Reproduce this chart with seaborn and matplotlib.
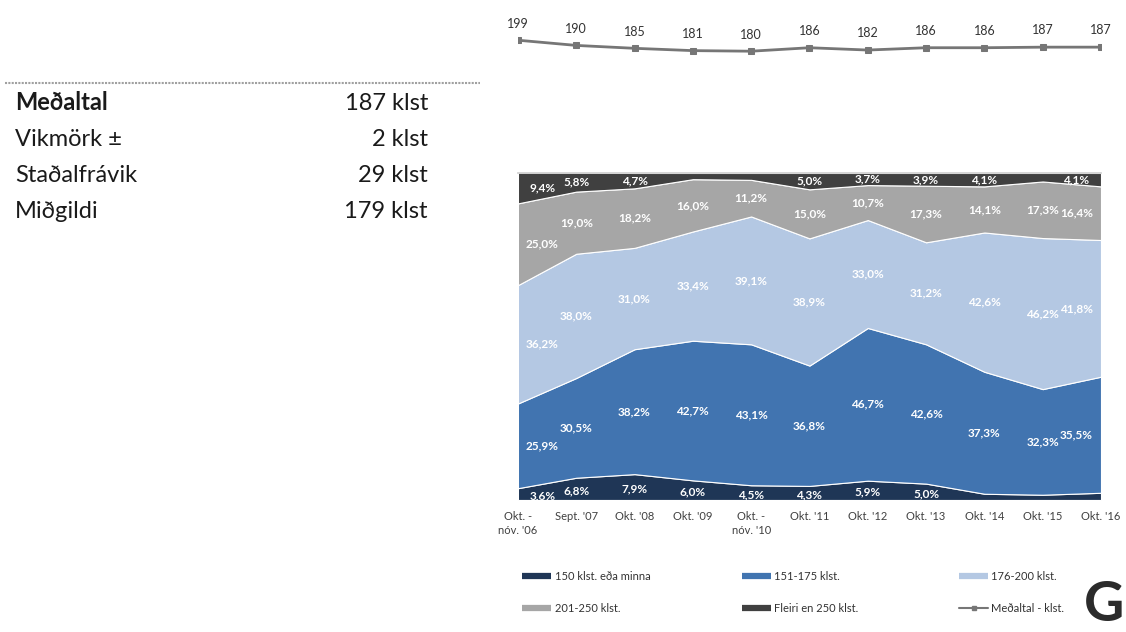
import numpy as np
import pandas as pd
import matplotlib
matplotlib.use("Agg")
import matplotlib.pyplot as plt
from matplotlib.lines import Line2D
import seaborn as sns

# Data
periods = ["Okt. -\nnóv. '06", "Sept. '07", "Okt. '08", "Okt. '09", "Okt. -\nnóv. '10",
           "Okt. '11", "Okt. '12", "Okt. '13", "Okt. '14", "Okt. '15", "Okt. '16"]
avg_hours = [199, 190, 185, 181, 180, 186, 182, 186, 186, 187, 187]

band_names = ["150 klst. eða minna", "151-175 klst.", "176-200 klst.", "201-250 klst.", "Fleiri en 250 klst."]
le150 = [3.6, 6.8, 7.9, 6.0, 4.5, 4.3, 5.9, 5.0, 1.9, 1.6, 2.2]
h151_175 = [25.9, 30.5, 38.2, 42.7, 43.1, 36.8, 46.7, 42.6, 37.3, 32.3, 35.5]
h176_200 = [36.2, 38.0, 31.0, 33.4, 39.1, 38.9, 33.0, 31.2, 42.6, 46.2, 41.8]
h201_250 = [25.0, 19.0, 18.2, 16.0, 11.2, 15.0, 10.7, 17.3, 14.1, 17.3, 16.4]
gt250 = [9.4, 5.8, 4.7, 1.9, 2.1, 5.0, 3.7, 3.9, 4.1, 2.6, 4.1]
# which labels are printed in the chart (small values in the original have none)
show_le150 = [True] * 8 + [False] * 3
show_gt250 = [True, True, True, False, False, True, True, True, True, False, True]

stat_names = ["Meðaltal", "Vikmörk ±", "Staðalfrávik", "Miðgildi"]
stat_values = ["187 klst", "2 klst", "29 klst", "179 klst"]

band_colors = ["#1f3656", "#4174b0", "#b4c8e3", "#a6a6a6", "#404040"]
line_color = "#767676"

sns.set_theme(style="white")
plt.rcParams["font.family"] = ["Lato", "DejaVu Sans"]

fig = plt.figure(figsize=(11.26, 6.32), dpi=100)

x = np.arange(len(periods))

# Stacked area chart
ax = fig.add_axes([0.46, 0.2089, 0.5178, 0.5174])
bands = [le150, h151_175, h176_200, h201_250, gt250]
ax.stackplot(x, *bands, colors=band_colors, edgecolor="white", linewidth=0.8)
ax.set_xlim(0, len(periods) - 1)
ax.set_ylim(0, 100)
ax.set_yticks([])
ax.set_xticks(x)
ax.set_xticklabels(periods, fontsize=8, color="#404040", linespacing=1.3)
ax.tick_params(axis="x", length=0, pad=8)
for s in ax.spines.values():
    s.set_visible(False)
ax.spines["top"].set_visible(True)
ax.spines["top"].set_color("#d0d0d0")

shows = [show_le150, [True] * 11, [True] * 11, [True] * 11, show_gt250]
cum = np.zeros(len(periods))
for k, (vals, show) in enumerate(zip(bands, shows)):
    vals = np.array(vals)
    for i, v in enumerate(vals):
        if show[i]:
            xi = i
            if i == 0:
                xi = 0.42
            elif i == len(periods) - 1:
                xi = len(periods) - 1.42
            y = cum[i] + v / 2
            if k == 0:
                y = cum[i] + v / 2 - 0.6
            ax.text(xi, y, f"{v:.1f}%".replace(".", ","), ha="center", va="center",
                    fontsize=8.5, color="white", fontweight="bold")
    cum += vals

# Average line on top
lax = fig.add_axes([0.46, 0.897, 0.5178, 0.087])
df_line = pd.DataFrame({"x": x, "avg": avg_hours})
sns.lineplot(data=df_line, x="x", y="avg", ax=lax, color=line_color, linewidth=2,
             marker="s", markersize=5, markeredgecolor=line_color)
lax.set_xlim(0, len(periods) - 1)
lax.set_ylim(156, 251)
lax.axis("off")
for xi, v in zip(x, avg_hours):
    lax.annotate(str(v), (xi, v), xytext=(0, 12), textcoords="offset points",
                 ha="center", va="center", fontsize=9, color="#333333")

# Legends (three columns, two rows)
def patch(c):
    return Line2D([0], [0], color=c, linewidth=4.5, solid_capstyle="butt")

line_handle = Line2D([0], [0], color=line_color, linewidth=1.5, marker="s", markersize=3)
cols = [
    ([patch(band_colors[0]), patch(band_colors[3])], [band_names[0], band_names[3]], 0.455),
    ([patch(band_colors[1]), patch(band_colors[4])], [band_names[1], band_names[4]], 0.650),
    ([patch(band_colors[2]), line_handle], [band_names[2], "Meðaltal - klst."], 0.843),
]
for handles, labels, lx in cols:
    fig.legend(handles, labels, loc="upper left", bbox_to_anchor=(lx, 0.112),
               frameon=False, fontsize=8, handlelength=2.6, handletextpad=0.3,
               labelspacing=1.9, labelcolor="#333333")

# Summary statistics on the left
fig.add_artist(Line2D([5 / 1126, 480 / 1126], [1 - 83 / 632, 1 - 83 / 632],
                      color="#a0a0a0", linewidth=1.5, linestyle=(0, (1, 0.6))))
row_y = [103, 139, 176, 212]
for i, (name, val) in enumerate(zip(stat_names, stat_values)):
    yy = 1 - row_y[i] / 632
    fig.text(15 / 1126, yy, name, ha="left", va="center", fontsize=17,
             fontweight="bold" if i == 0 else "normal", color="#1a1a1a")
    fig.text(428 / 1126, yy, val, ha="right", va="center", fontsize=17, color="#1a1a1a")

# Logo letter
fig.text(1124 / 1126, 0.003, "G", ha="right", va="bottom", fontsize=40,
         fontweight="bold", color="#2b2b2b")

fig.savefig("out.png", dpi=100)
